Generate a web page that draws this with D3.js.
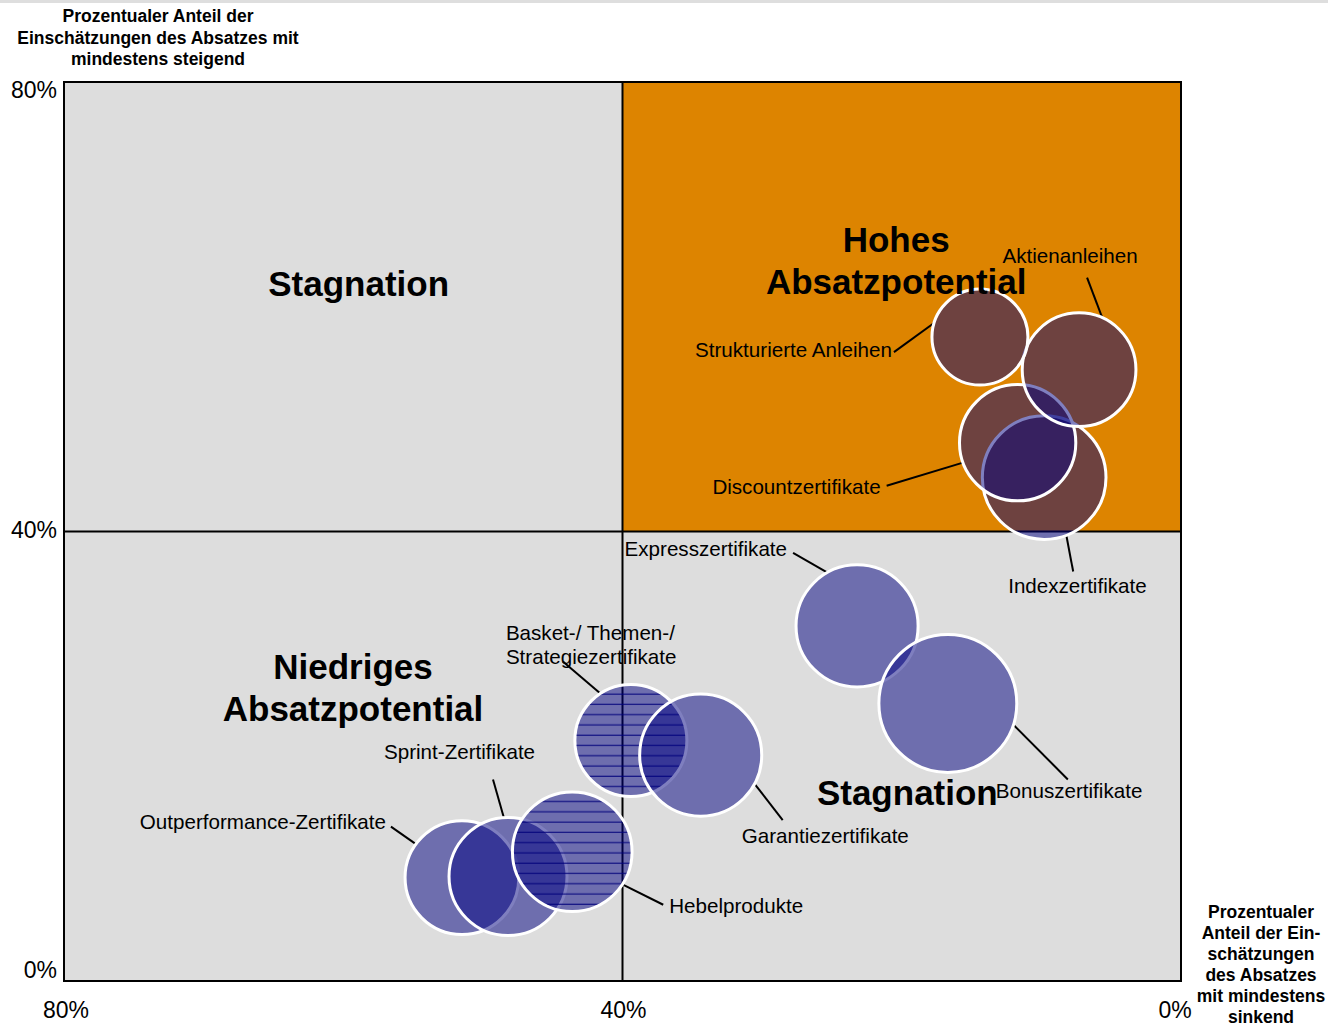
<!DOCTYPE html>
<html>
<head>
<meta charset="utf-8">
<script src="https://cdn.jsdelivr.net/npm/d3@7"></script>
<style>
  body { margin: 0; background: #fff; }
  svg { display: block; font-family: Arial, "Liberation Sans", sans-serif; }
</style>
</head>
<body>
<svg id="chart" width="1328" height="1026"></svg>
<script>
// data
let products = ['Indexzertifikate', 'Discountzertifikate', 'Aktienanleihen', 'Strukturierte Anleihen',
	'Expresszertifikate', 'Bonuszertifikate', 'Basket-/ Themen-/ Strategiezertifikate', 'Garantiezertifikate',
	'Outperformance-Zertifikate', 'Sprint-Zertifikate', 'Hebelprodukte'];
let shareFalling = [9.8, 11.7, 7.3, 14.4, 23.2, 16.7, 39.4, 34.4, 51.5, 48.2, 43.6];   // x, % sinkend
let shareRising = [44.8, 47.9, 54.4, 57.3, 31.6, 24.7, 21.4, 20.1, 9.2, 9.3, 11.5];   // y, % steigend
let bubbleSize = [78, 69, 66, 47, 76, 97, 64, 76, 66, 71, 73];
let hatched = ['Basket-/ Themen-/ Strategiezertifikate', 'Hebelprodukte'];
let xTicks = [80, 40, 0];
let yTicks = [0, 40, 80];
let quadrantNames = [['Stagnation'], ['Hohes', 'Absatzpotential'], ['Niedriges', 'Absatzpotential'], ['Stagnation']];
let yTitle = ['Prozentualer Anteil der', 'Einschätzungen des Absatzes mit', 'mindestens steigend'];
let xTitle = ['Prozentualer', 'Anteil der Ein-', 'schätzungen', 'des Absatzes', 'mit mindestens', 'sinkend'];

// label layout: offsets in px from bubble centre, leader end as angle on the rim
let labelLayout = {
	'Aktienanleihen': { dx: -9, dy: -107, anchor: 'middle', lx: 8, ly: -92, angle: -66 },
	'Strukturierte Anleihen': { dx: -88, dy: 20, anchor: 'end', lx: -86, ly: 15, angle: -163 },
	'Discountzertifikate': { dx: -137, dy: 51, anchor: 'end', lx: -131, ly: 43, angle: 160 },
	'Indexzertifikate': { dx: -36, dy: 115, anchor: 'start', lx: 29, ly: 94, angle: 69 },
	'Expresszertifikate': { dx: -70, dy: -70, anchor: 'end', lx: -64, ly: -73, angle: -119 },
	'Bonuszertifikate': { dx: 48, dy: 95, anchor: 'start', lx: 120, ly: 76, angle: 18 },
	'Basket-/ Themen-/ Strategiezertifikate': { dx: -125, dy: -101, anchor: 'start', lx: -68, ly: -79, angle: -123 },
	'Garantiezertifikate': { dx: 41, dy: 88, anchor: 'start', lx: 82, ly: 65, angle: 28 },
	'Outperformance-Zertifikate': { dx: -76, dy: -49, anchor: 'end', lx: -71, ly: -51, angle: -144 },
	'Sprint-Zertifikate': { dx: -124, dy: -117, anchor: 'start', lx: -15, ly: -97, angle: -94 },
	'Hebelprodukte': { dx: 97, dy: 61, anchor: 'start', lx: 91, ly: 53, angle: 33 }
};
// where the quadrant captions sit (in axis units)
let quadrantSpots = [[58.9, 61.0], [20.4, 64.9], [59.3, 26.9], [19.6, 15.7]];

let plot = { left: 64, top: 82, right: 1181, bottom: 981 };

let svg = d3.select('#chart');
let x = d3.scaleLinear().domain([80, 0]).range([plot.left, plot.right]);
let y = d3.scaleLinear().domain([0, 80]).range([plot.bottom, plot.top]);
let r = d3.scaleSqrt().domain([0, 100]).range([0, 70]);
let xLabelPos = d3.scaleLinear().domain([80, 40, 0]).range([plot.left + 2, x(40) + 1, plot.right - 6]);
let yLabelPos = d3.scaleLinear().domain([0, 80]).range([plot.bottom - 3, plot.top + 16]);

let bubbles = products.map(function(p, i) {
	return { name: p, fx: shareFalling[i], fy: shareRising[i], size: bubbleSize[i] };
});

// thin grey rule along the top of the page
svg.append('rect').attr('x', 0).attr('y', 0).attr('width', 1328).attr('height', 3).attr('fill', '#dedede');

// quadrants
svg.append('rect')
	.attr('x', x(80)).attr('y', y(80))
	.attr('width', x(0) - x(80)).attr('height', y(0) - y(80))
	.attr('fill', '#dddddd');
svg.append('rect')
	.attr('x', x(40)).attr('y', y(80))
	.attr('width', x(0) - x(40)).attr('height', y(40) - y(80))
	.attr('fill', '#dd8400');

let lines = svg.append('g').attr('stroke', '#000').attr('stroke-width', 2);
lines.append('line').attr('x1', x(40)).attr('x2', x(40)).attr('y1', y(80)).attr('y2', y(0));
lines.append('line').attr('x1', x(80)).attr('x2', x(0)).attr('y1', y(40)).attr('y2', y(40));
svg.append('rect')
	.attr('x', x(80)).attr('y', y(80))
	.attr('width', x(0) - x(80)).attr('height', y(0) - y(80))
	.attr('fill', 'none').attr('stroke', '#000').attr('stroke-width', 2);

// hatch patterns, one per hatched bubble so the lines start at its top
let defs = svg.append('defs');
bubbles.filter(function(d) { return hatched.indexOf(d.name) > -1; }).forEach(function(d, i) {
	d.pattern = 'hatch' + i;
	let pat = defs.append('pattern')
		.attr('id', d.pattern)
		.attr('patternUnits', 'userSpaceOnUse')
		.attr('width', 20).attr('height', 10.27)
		.attr('patternTransform', 'translate(0,' + (y(d.fy) - r(d.size)) + ')');
	pat.append('rect').attr('x', 0).attr('y', 9).attr('width', 20).attr('height', 1.3)
		.attr('fill', '#00007a').attr('opacity', 0.8);
});

// leader lines
svg.append('g').selectAll('line')
	.data(bubbles)
	.enter()
	.append('line')
	.attr('x1', function(d) { return x(d.fx) + labelLayout[d.name].lx; })
	.attr('y1', function(d) { return y(d.fy) + labelLayout[d.name].ly; })
	.attr('x2', function(d) { return x(d.fx) + r(d.size) * Math.cos(labelLayout[d.name].angle * Math.PI / 180); })
	.attr('y2', function(d) { return y(d.fy) + r(d.size) * Math.sin(labelLayout[d.name].angle * Math.PI / 180); })
	.attr('stroke', '#000')
	.attr('stroke-width', 2);

// bubbles, in drawing order
let bubbleG = svg.append('g').selectAll('g')
	.data(bubbles)
	.enter()
	.append('g');

bubbleG.append('circle')
	.attr('cx', function(d) { return x(d.fx); })
	.attr('cy', function(d) { return y(d.fy); })
	.attr('r', function(d) { return r(d.size); })
	.attr('fill', 'rgba(0,0,128,0.5)')
	.attr('stroke', '#fff')
	.attr('stroke-width', 3);

bubbleG.filter(function(d) { return d.pattern; })
	.append('circle')
	.attr('cx', function(d) { return x(d.fx); })
	.attr('cy', function(d) { return y(d.fy); })
	.attr('r', function(d) { return r(d.size) - 1.5; })
	.attr('fill', function(d) { return 'url(#' + d.pattern + ')'; });

// bubble labels
svg.append('g').selectAll('text')
	.data(bubbles)
	.enter()
	.append('text')
	.attr('text-anchor', function(d) { return labelLayout[d.name].anchor; })
	.attr('font-size', 20.6)
	.attr('fill', '#000')
	.each(function(d) {
		let parts = d.name === 'Basket-/ Themen-/ Strategiezertifikate' ? ['Basket-/ Themen-/', 'Strategiezertifikate'] : [d.name];
		let lay = labelLayout[d.name];
		d3.select(this).selectAll('tspan')
			.data(parts)
			.enter()
			.append('tspan')
			.attr('x', x(d.fx) + lay.dx)
			.attr('y', function(t, j) { return y(d.fy) + lay.dy + j * 24; })
			.text(function(t) { return t; });
	});

// quadrant captions
svg.append('g').selectAll('text')
	.data(quadrantNames)
	.enter()
	.append('text')
	.attr('text-anchor', 'middle')
	.attr('font-size', 35)
	.attr('font-weight', 'bold')
	.each(function(words, i) {
		d3.select(this).selectAll('tspan')
			.data(words)
			.enter()
			.append('tspan')
			.attr('x', x(quadrantSpots[i][0]))
			.attr('y', function(w, j) { return y(quadrantSpots[i][1]) + j * 42; })
			.text(function(w) { return w; });
	});

// tick labels
svg.append('g').selectAll('text')
	.data(xTicks)
	.enter()
	.append('text')
	.attr('x', function(d) { return xLabelPos(d); })
	.attr('y', 1018)
	.attr('text-anchor', 'middle')
	.attr('font-size', 23)
	.text(function(d) { return d + '%'; });

svg.append('g').selectAll('text')
	.data(yTicks)
	.enter()
	.append('text')
	.attr('x', plot.left - 7)
	.attr('y', function(d) { return yLabelPos(d); })
	.attr('text-anchor', 'end')
	.attr('font-size', 23)
	.text(function(d) { return d + '%'; });

// axis titles
svg.append('text')
	.attr('text-anchor', 'middle')
	.attr('font-size', 17.5)
	.attr('font-weight', 'bold')
	.selectAll('tspan')
	.data(yTitle)
	.enter()
	.append('tspan')
	.attr('x', 158)
	.attr('y', function(d, i) { return 22 + i * 21.5; })
	.text(function(d) { return d; });

svg.append('text')
	.attr('text-anchor', 'middle')
	.attr('font-size', 17.5)
	.attr('font-weight', 'bold')
	.selectAll('tspan')
	.data(xTitle)
	.enter()
	.append('tspan')
	.attr('x', 1261)
	.attr('y', function(d, i) { return 918 + i * 21; })
	.text(function(d) { return d; });
</script>
</body>
</html>
